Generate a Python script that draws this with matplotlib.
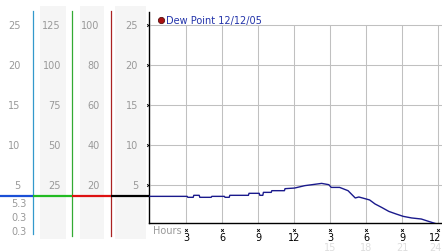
import matplotlib.pyplot as plt
import numpy as np

# dew point trace, hours since midnight
hours = [0.0, 3.1, 3.15, 3.6, 3.65, 4.1, 4.15, 5.1, 5.15, 6.2, 6.25, 6.6, 6.65, 8.2, 8.25,
         9.1, 9.15, 9.4, 9.45, 10.1, 10.15, 11.2, 11.25, 12.05, 12.9, 14.3, 14.9, 15.1,
         15.8, 16.5, 17.1, 17.4, 17.7, 18.3, 18.75, 19.3, 19.9, 20.5, 21.1, 21.8, 22.6,
         23.2, 23.75]
dew = [3.58, 3.58, 3.46, 3.46, 3.71, 3.71, 3.46, 3.46, 3.58, 3.58, 3.46, 3.46, 3.71, 3.71, 3.96,
       3.96, 3.71, 3.71, 4.08, 4.08, 4.29, 4.29, 4.54, 4.62, 4.92, 5.2, 5.04, 4.7,
       4.7, 4.29, 3.38, 3.5, 3.38, 3.13, 2.63, 2.2, 1.7, 1.38, 1.08, 0.88, 0.75,
       0.46, 0.2]
current = 3.6

grid_vals = [5, 10, 15, 20, 25]
col_a = ["5", "10", "15", "20", "25"]
col_b = ["25", "50", "75", "100", "125"]
col_c = ["20", "40", "60", "80", "100"]
col_d = ["5", "10", "15", "20", "25"]
readings = ["5.3", "0.3", "0.3"]
hour_ticks = [3, 6, 9, 12, 15, 18, 21, 24]
hour_labels = ["3", "6", "9", "12", "3", "6", "9", "12"]
pm_ticks = [15, 18, 21, 24]
pm_labels = ["15", "18", "21", "24"]
legend_text = "Dew Point 12/12/05"

W, H = 442, 253
fig = plt.figure(figsize=(W / 100, H / 100), dpi=100)
fs = 7

# background axes: x in pixels, y in dew point units (8 px per unit, 0 at px 226)
bg = fig.add_axes([0, 0, 1, 1])
bg.set_xlim(0, W)
bg.set_ylim((226 - H) / 8, 226 / 8)
bg.axis('off')


def v(py):
    return (226 - py) / 8


for x0, x1 in [(40, 66), (80, 104), (115, 146)]:
    bg.fill_between([x0, x1], v(240), v(7), color='#f5f5f5', lw=0)

bg.plot([33.3, 33.3], [v(235), v(12)], color='#3399cc', lw=0.9)
bg.plot([72.3, 72.3], [v(237), v(12)], color='#33aa33', lw=0.9)
bg.plot([111.3, 111.3], [v(237), v(12)], color='#aa2222', lw=0.9)

bg.plot([0, 33.3], [current, current], color='#1a4fd6', lw=1.6, solid_capstyle='butt')
bg.plot([33.3, 72.3], [current, current], color='#22bb22', lw=1.6, solid_capstyle='butt')
bg.plot([72.3, 111.3], [current, current], color='#dd1111', lw=1.6, solid_capstyle='butt')
bg.plot([111.3, 149.5], [current, current], color='black', lw=1.6, solid_capstyle='butt')

for right, labels in [(20.5, col_a), (61, col_b), (99.5, col_c), (138, col_d)]:
    for yv, lab in zip(grid_vals, labels):
        bg.text(right, yv, lab, ha='right', va='center', fontsize=fs, color='#999999')
for py, lab in zip([204.3, 218.3, 232.5], readings):
    bg.text(26.7, v(py), lab, ha='right', va='center', fontsize=fs, color='#999999')

# main chart: hours vs dew point
ax = fig.add_axes([149 / W, (H - 224) / H, (W - 149) / W, 211 / H])
ax.set_xlim(-1 / 12, 24.33)
ax.set_ylim(v(224), v(13))
ax.set_facecolor('none')
for s in ['top', 'right']:
    ax.spines[s].set_visible(False)
for s in ['left', 'bottom']:
    ax.spines[s].set_linewidth(1.0)
    ax.spines[s].set_color('black')
ax.set_xticks([])
ax.set_yticks([])

ax.hlines(grid_vals, 0, 24.33, color='#c0c0c0', lw=0.75, zorder=1)
ax.vlines(hour_ticks, v(224), 25, color='#c0c0c0', lw=0.75, zorder=1)

ax.plot(hours, dew, color='#1a1a8c', lw=1.0, zorder=3)

ax.plot([-0.2] * len(grid_vals), grid_vals, 'x', color='black', ms=2, mew=0.6, clip_on=False)
ax.plot(hour_ticks, [v(230.5)] * len(hour_ticks), 'x', color='black', ms=2, mew=0.6, clip_on=False)

# last label pulled in so it stays inside the picture
label_pos = [min(hx, 23.8) for hx in hour_ticks]
pm_pos = [min(hx, 23.8) for hx in pm_ticks]
for hx, lab in zip(label_pos, hour_labels):
    ax.text(hx, v(238), lab, ha='center', va='center', fontsize=fs, color='black', clip_on=False)
for hx, lab in zip(pm_pos, pm_labels):
    ax.text(hx, v(248.5), lab, ha='center', va='center', fontsize=fs, color='#dddddd', clip_on=False)
ax.text(0.25, v(231), "Hours", ha='left', va='center', fontsize=fs, color='#999999', clip_on=False)

ax.plot([0.9], [v(20.7)], 'o', color='#aa1111', mec='#551111', ms=4.5, mew=0.6, clip_on=False)
ax.text(1.35, v(21), legend_text, ha='left', va='center', fontsize=fs, color='#2233aa')

fig.savefig('out.png', dpi=100)
